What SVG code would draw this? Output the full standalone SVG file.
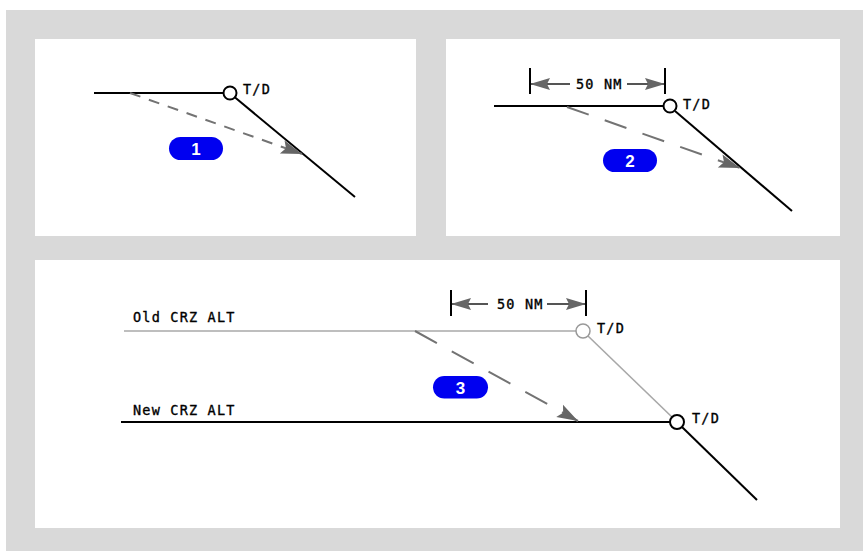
<svg xmlns="http://www.w3.org/2000/svg" width="863" height="551" viewBox="0 0 863 551">
<style>
.panel{fill:#ffffff}
.ln{stroke:#000;stroke-width:2;fill:none}
.old{stroke:#a8a8a8;stroke-width:1.6;fill:none}
.dash{stroke:#737373;stroke-width:2;fill:none}
.lbl{font-family:"DejaVu Sans Mono",monospace;font-size:13.5px;letter-spacing:1.2px;fill:#000;stroke:#000;stroke-width:0.35}
.pill{fill:#0000f0}
.num{font-family:"Liberation Sans",Arial,sans-serif;font-weight:bold;font-size:17px;fill:#fff;text-anchor:middle}
.bar{stroke:#000;stroke-width:2}
.dim{stroke:#555;stroke-width:2;fill:none}
</style>
<defs>
<marker id="ah" markerUnits="userSpaceOnUse" markerWidth="26" markerHeight="18" viewBox="-23 -9 26 18" refX="0" refY="0" orient="auto">
<path d="M0,0 L-21,-7 L-17,0 L-21,7 Z" fill="#666"/>
</marker>
<marker id="dh" markerUnits="userSpaceOnUse" markerWidth="24" markerHeight="16" viewBox="-22 -8 24 16" refX="0" refY="0" orient="auto-start-reverse">
<path d="M0,0 L-20,-6 L-17,0 L-20,6 Z" fill="#666"/>
</marker>
</defs>
<rect x="6" y="10" width="857" height="541" fill="#d9d9d9"/>
<rect class="panel" x="35" y="39" width="381" height="197"/>
<rect class="panel" x="446" y="39" width="394" height="197"/>
<rect class="panel" x="35" y="260" width="805" height="268"/>

<g id="connectors">
<line class="ln" x1="94" y1="93" x2="223.5" y2="93"/>
<line class="ln" x1="234.5" y1="97" x2="355" y2="197"/>
<line class="dash" x1="130" y1="93" x2="302" y2="154" stroke-dasharray="11 9" marker-end="url(#ah)"/>

<line class="ln" x1="494" y1="106" x2="663" y2="106"/>
<line class="ln" x1="675" y1="111" x2="792" y2="211"/>
<line class="dash" x1="567" y1="107" x2="740" y2="168" stroke-dasharray="23 17" marker-end="url(#ah)"/>
<line class="dim" x1="530" y1="84" x2="570" y2="84" marker-start="url(#dh)"/>
<line class="dim" x1="627" y1="84" x2="665" y2="84" marker-end="url(#dh)"/>

<line class="old" x1="124" y1="331" x2="576" y2="331"/>
<line class="old" x1="588" y1="336" x2="673" y2="418"/>
<line class="ln" x1="121" y1="422" x2="670" y2="422"/>
<line class="ln" x1="682" y1="427" x2="757" y2="500"/>
<line class="dash" x1="415" y1="331" x2="578" y2="421" stroke-dasharray="25 17" marker-end="url(#ah)"/>
<line class="dim" x1="451" y1="304" x2="488" y2="304" marker-start="url(#dh)"/>
<line class="dim" x1="547" y1="304" x2="586" y2="304" marker-end="url(#dh)"/>
</g>

<g id="td1">
<circle cx="230" cy="93" r="6.5" fill="none" stroke="#000" stroke-width="2"/>
<text class="lbl" x="243" y="94">T/D</text>
</g>
<g id="badge1">
<rect class="pill" x="169" y="137" width="54" height="23" rx="11.5"/>
<text class="num" x="196" y="155">1</text>
</g>

<g id="dim2">
<line class="bar" x1="530" y1="68" x2="530" y2="94"/>
<line class="bar" x1="665" y1="68" x2="665" y2="94"/>
<text class="lbl" x="576" y="89">50 NM</text>
</g>
<g id="td2">
<circle cx="670" cy="106" r="6.5" fill="none" stroke="#000" stroke-width="2"/>
<text class="lbl" x="683" y="109">T/D</text>
</g>
<g id="badge2">
<rect class="pill" x="603" y="149" width="54" height="23" rx="11.5"/>
<text class="num" x="630" y="167">2</text>
</g>

<g id="oldalt">
<text class="lbl" x="133" y="322">Old CRZ ALT</text>
</g>
<g id="newalt">
<text class="lbl" x="133" y="415">New CRZ ALT</text>
</g>
<g id="dim3">
<line class="bar" x1="451" y1="290" x2="451" y2="316"/>
<line class="bar" x1="586" y1="290" x2="586" y2="316"/>
<text class="lbl" x="497" y="309">50 NM</text>
</g>
<g id="td3old">
<circle cx="583" cy="331" r="7" fill="#fff" stroke="#999" stroke-width="1.5"/>
<text class="lbl" x="597" y="333">T/D</text>
</g>
<g id="td3new">
<circle cx="677" cy="422" r="7" fill="none" stroke="#000" stroke-width="2"/>
<text class="lbl" x="692" y="423">T/D</text>
</g>
<g id="badge3">
<rect class="pill" x="433" y="376" width="55" height="22.5" rx="11.25"/>
<text class="num" x="460.5" y="393.5">3</text>
</g>
</svg>
